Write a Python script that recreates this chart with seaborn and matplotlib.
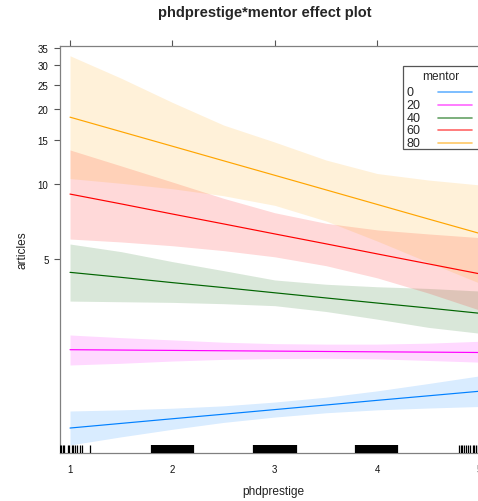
import matplotlib
matplotlib.use("Agg")
import matplotlib.pyplot as plt
import numpy as np
import pandas as pd
import seaborn as sns
from matplotlib.ticker import FixedLocator, FixedFormatter, NullLocator
from matplotlib.patches import Rectangle
from matplotlib.lines import Line2D

# ---- effect estimates (articles, response scale) over phdprestige ----
phdprestige = [1.0, 1.5, 2.0, 2.5, 3.0, 3.5, 4.0, 4.5, 5.0]
mentor_levels = ["0", "20", "40", "60", "80"]

fit_0 = [1.051, 1.097, 1.145, 1.194, 1.246, 1.300, 1.357, 1.415, 1.476]
lower_0 = [0.899, 0.969, 1.039, 1.107, 1.163, 1.210, 1.243, 1.264, 1.282]
upper_0 = [1.230, 1.243, 1.262, 1.290, 1.336, 1.397, 1.481, 1.585, 1.701]

fit_20 = [2.165, 2.158, 2.151, 2.144, 2.137, 2.130, 2.123, 2.117, 2.110]
lower_20 = [1.88, 1.91, 1.95, 1.98, 1.995, 2.00, 1.99, 1.96, 1.93]
upper_20 = [2.48, 2.42, 2.37, 2.32, 2.29, 2.28, 2.28, 2.30, 2.34]

fit_40 = [4.42, 4.22, 4.02, 3.84, 3.66, 3.49, 3.33, 3.18, 3.03]
lower_40 = [3.39, 3.37, 3.35, 3.31, 3.25, 3.08, 2.87, 2.66, 2.52]
upper_40 = [5.74, 5.35, 4.88, 4.49, 4.12, 3.96, 3.87, 3.81, 3.72]

fit_60 = [9.10, 8.31, 7.57, 6.91, 6.30, 5.75, 5.24, 4.78, 4.36]
lower_60 = [6.01, 5.85, 5.65, 5.40, 5.10, 4.70, 4.20, 3.65, 3.12]
upper_60 = [13.67, 11.80, 10.17, 8.75, 7.66, 6.95, 6.54, 6.30, 6.09]

fit_80 = [18.50, 16.18, 14.15, 12.37, 10.82, 9.46, 8.27, 7.23, 6.33]
lower_80 = [10.50, 10.05, 9.56, 8.96, 8.20, 7.10, 5.90, 4.85, 4.00]
upper_80 = [32.6, 26.5, 21.2, 17.2, 14.7, 12.46, 11.0, 10.36, 9.9]

# observed (jittered) phdprestige values shown as a rug
rug_low = [0.902, 0.915, 0.929, 0.941, 0.980, 0.995, 1.020, 1.034, 1.052,
           1.068, 1.098, 1.117, 1.195]
rug_two = [1.798, 1.813, 1.826, 1.840, 1.851, 1.866, 1.878, 1.893, 1.905,
           1.918, 1.932, 1.944, 1.957, 1.971, 1.983, 1.996, 2.009, 2.022,
           2.035, 2.047, 2.061, 2.073, 2.087, 2.099, 2.112, 2.126, 2.138,
           2.151, 2.164, 2.177, 2.190, 2.203]
rug_three = [2.797, 2.810, 2.823, 2.836, 2.848, 2.862, 2.874, 2.888, 2.900,
             2.913, 2.927, 2.939, 2.952, 2.966, 2.978, 2.991, 3.004, 3.017,
             3.030, 3.043, 3.056, 3.069, 3.082, 3.095, 3.108, 3.121, 3.134,
             3.147, 3.160, 3.173, 3.186, 3.199, 3.204]
rug_four = [3.793, 3.806, 3.819, 3.832, 3.845, 3.858, 3.871, 3.884, 3.897,
            3.910, 3.923, 3.936, 3.949, 3.962, 3.975, 3.988, 4.001, 4.014,
            4.027, 4.040, 4.053, 4.066, 4.079, 4.092, 4.105, 4.118, 4.131,
            4.139, 4.158, 4.171, 4.184, 4.190]
rug_high = [4.800, 4.817, 4.833, 4.849, 4.872, 4.888, 4.905, 4.931, 4.945,
            4.964, 4.985, 5.010, 5.050, 5.100]

y_ticks = [5, 10, 15, 20, 25, 30, 35]
x_ticks = [1, 2, 3, 4, 5]

line_colors = ["#0080ff", "#ff00ff", "#006400", "#ff0000", "#ffa500"]

fits = [fit_0, fit_20, fit_40, fit_60, fit_80]
lowers = [lower_0, lower_20, lower_40, lower_60, lower_80]
uppers = [upper_0, upper_20, upper_40, upper_60, upper_80]

df = pd.concat(
    [pd.DataFrame({"phdprestige": phdprestige, "articles": f,
                   "lower": lo, "upper": hi, "mentor": m})
     for m, f, lo, hi in zip(mentor_levels, fits, lowers, uppers)],
    ignore_index=True,
)
rug_sparse = rug_low + rug_high
rug_dense = rug_two + rug_three + rug_four

# ---- figure ----
sns.set_style("white")
plt.rcParams["font.family"] = ["Liberation Sans", "DejaVu Sans"]

W, H = 478, 502
fig = plt.figure(figsize=(W / 100, H / 100), dpi=100)
ax = fig.add_axes([60 / W, (H - 454) / H, 430 / W, (454 - 46.7) / H])
ax.set_yscale("log")

palette = dict(zip(mentor_levels, line_colors))

# confidence bands first, then the fitted lines on top
for m in mentor_levels:
    sub = df[df["mentor"] == m]
    ax.fill_between(sub["phdprestige"], sub["lower"], sub["upper"],
                    color=palette[m], alpha=0.15, linewidth=0, zorder=1)

sns.lineplot(data=df, x="phdprestige", y="articles", hue="mentor",
             hue_order=mentor_levels, palette=palette, estimator=None,
             errorbar=None, linewidth=0.85, legend=False, ax=ax, zorder=3)

rug_h = 8 / 407.3
sns.rugplot(x=rug_sparse, height=rug_h, color="black", linewidth=0.9,
            ax=ax, zorder=4)
sns.rugplot(x=rug_dense, height=rug_h, color="black", linewidth=1.6,
            ax=ax, zorder=4)

ax.set_xlim(0.9023, 5.1016)
ax.set_ylim(0.8348, 35.77)

ax.yaxis.set_major_locator(FixedLocator(y_ticks))
ax.yaxis.set_major_formatter(FixedFormatter([str(v) for v in y_ticks]))
ax.yaxis.set_minor_locator(NullLocator())
ax.xaxis.set_major_locator(FixedLocator(x_ticks))
ax.xaxis.set_major_formatter(FixedFormatter([str(v) for v in x_ticks]))
ax.xaxis.set_minor_locator(NullLocator())

for s in ax.spines.values():
    s.set_color("#808080")
    s.set_linewidth(0.9)

ax.tick_params(axis="both", which="major", direction="out", length=4.3,
               width=0.8, color="#555555", labelsize=7, labelcolor="#111111")
ax.tick_params(axis="x", top=True, labeltop=False, pad=3.5)
ax.tick_params(axis="y", left=True, right=True, labelright=False, pad=4.0)

ax.set_xlabel("phdprestige", fontsize=8.6, color="#222222")
ax.xaxis.set_label_coords((273 - 60) / 430, (454 - 492) / 407.3)
ax.xaxis.label.set_va("center")
ax.set_ylabel("articles", fontsize=8.6, color="#222222")
ax.yaxis.set_label_coords((23 - 60) / 430, (454 - 250) / 407.3)
ax.yaxis.label.set_va("center")
ax.yaxis.label.set_ha("center")

fig.text(265 / W, 1 - 13.5 / H, "phdprestige*mentor effect plot",
         ha="center", va="center", fontsize=10.5, fontweight="bold")


# ---- key (legend) ----
def fx(px):
    return px / W


def fy(py):
    return 1 - py / H


key_left, key_top, key_right, key_bottom = 403.3, 66.7, 486.0, 149.5
fig.patches.append(Rectangle((fx(key_left), fy(key_bottom)),
                             fx(key_right) - fx(key_left),
                             fy(key_top) - fy(key_bottom),
                             transform=fig.transFigure, facecolor="white",
                             edgecolor="#555555", linewidth=0.9, zorder=5))
fig.text(fx(441), fy(77.5), "mentor", ha="center", va="center",
         fontsize=8.6, zorder=6)
row0, row_step = 93.3, 12.6
for i, m in enumerate(mentor_levels):
    yy = row0 + i * row_step
    fig.text(fx(406.5), fy(yy), m, ha="left", va="center", fontsize=9,
             zorder=6)
    fig.lines.append(Line2D([fx(437.7), fx(472.3)], [fy(yy), fy(yy)],
                            transform=fig.transFigure, color=palette[m],
                            alpha=0.6, linewidth=1.2, zorder=6))

fig.savefig("out.png", dpi=100)
